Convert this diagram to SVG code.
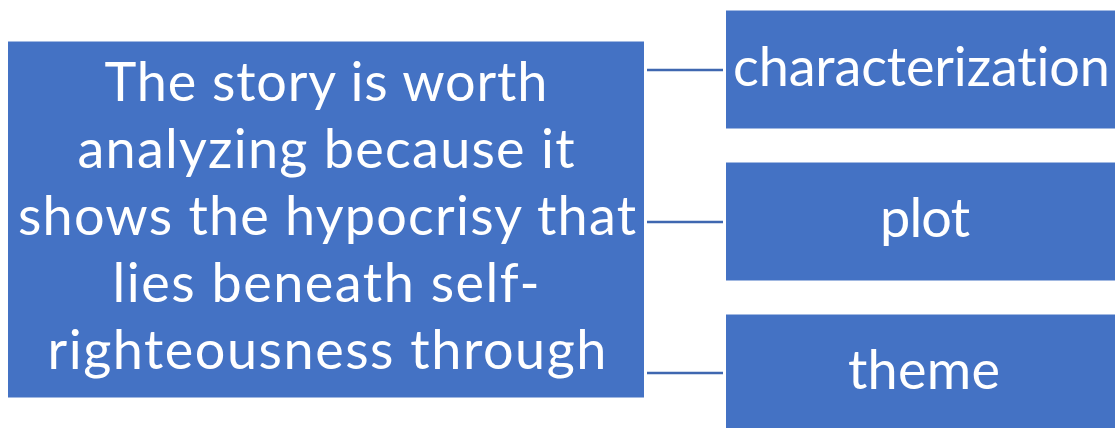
<svg xmlns="http://www.w3.org/2000/svg" width="1115" height="428" viewBox="0 0 1115 428">
<style>
.box{fill:#4472C4;stroke:#ffffff;stroke-width:1}
.t{font-family:Lato,"Open Sans","Liberation Sans",sans-serif;font-size:54px;fill:#ffffff;text-anchor:middle;font-variant-ligatures:none;font-feature-settings:"liga" 0,"clig" 0}
.c{stroke:#3F67B0;stroke-width:2.5;fill:none}
</style>
<rect width="1115" height="428" fill="#ffffff"/>
<g id="connectors">
<line class="c" x1="647" y1="70" x2="723" y2="70"/>
<line class="c" x1="647" y1="222" x2="723" y2="222"/>
<line class="c" x1="647" y1="373" x2="723" y2="373"/>
</g>
<g id="main">
<rect class="box" x="7.5" y="41" width="637" height="357"/>
<text class="t" x="326" y="101" textLength="443">The story is worth</text>
<text class="t" x="326" y="168" textLength="497">analyzing because it</text>
<text class="t" x="327" y="235" textLength="618">shows the hypocrisy that</text>
<text class="t" x="326" y="302" textLength="427">lies beneath self-</text>
<text class="t" x="327" y="369" textLength="559">righteousness through</text>
</g>
<g id="characterization">
<rect class="box" x="725.5" y="10" width="392" height="119"/>
<text class="t" x="921.5" y="86" textLength="377">characterization</text>
</g>
<g id="plot">
<rect class="box" x="725.5" y="162" width="392" height="119"/>
<text class="t" x="925" y="237" textLength="90">plot</text>
</g>
<g id="theme">
<rect class="box" x="725.5" y="314" width="392" height="120"/>
<text class="t" x="924" y="389" textLength="152">theme</text>
</g>
</svg>
